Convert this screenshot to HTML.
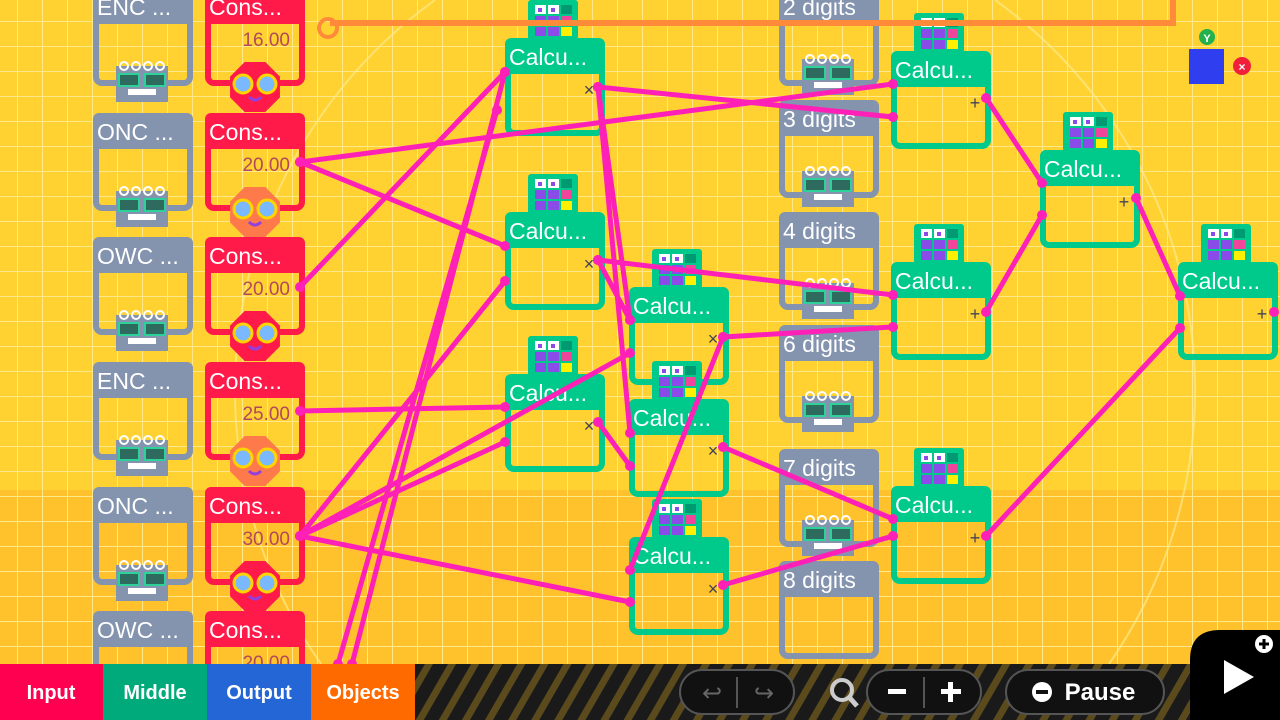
<!DOCTYPE html>
<html><head><meta charset="utf-8"><style>
html,body{margin:0;padding:0;width:1280px;height:720px;overflow:hidden;background:#FFD232}
svg{display:block}
svg text{font-family:"Liberation Sans",sans-serif}
</style></head><body>
<svg id="s" width="1280" height="720" viewBox="0 0 1280 720" xmlns="http://www.w3.org/2000/svg">
<defs>
<pattern id="grid" width="25" height="25" patternUnits="userSpaceOnUse" x="-7" y="-3">
<path d="M25 0V25M0 25H25" stroke="#FFE98A" stroke-width="2" fill="none"/>
</pattern>
<pattern id="stripes" width="20" height="20" patternUnits="userSpaceOnUse" patternTransform="rotate(30)">
<rect width="20" height="20" fill="#1a1a1a"/><rect width="7" height="20" fill="#5a4a1c"/>
</pattern>
</defs>
<rect width="1280" height="490" fill="#FFD232"/>
<rect y="490" width="1280" height="180" fill="#FFC22C"/>
<rect width="1280" height="670" fill="url(#grid)"/>
<path d="M435 0A480 480 0 0 0 321 664M995 0A480 480 0 0 1 1109 664" fill="none" stroke="#FFE98A" stroke-width="2" opacity="0.7"/>
<g id="nodes"></g>
<path d="M330 23H1173V0" stroke="#FF8A3A" stroke-width="6" fill="none"/>
<circle cx="328" cy="28" r="9" fill="none" stroke="#FF8A3A" stroke-width="4"/>
<g id="wires"></g>
<g>
<rect x="1189" y="49" width="35" height="35" fill="#2F3FF0"/>
<circle cx="1207" cy="37" r="8" fill="#22B14C"/><text x="1207" y="42" font-size="11" font-weight="bold" fill="#fff" text-anchor="middle">Y</text>
<circle cx="1242" cy="66" r="9" fill="#F0203A"/><text x="1242" y="71" font-size="12" font-weight="bold" fill="#fff" text-anchor="middle">×</text>
</g>
<g>
<rect y="664" width="1280" height="56" fill="url(#stripes)"/>
<rect x="0" y="664" width="103" height="56" fill="#FF0050"/>
<rect x="103" y="664" width="104" height="56" fill="#00AA7A"/>
<rect x="207" y="664" width="104" height="56" fill="#2566D6"/>
<rect x="311" y="664" width="104" height="56" fill="#FF6A00"/>
<g font-size="20" font-weight="bold" fill="#fff" text-anchor="middle">
<text x="51" y="699">Input</text><text x="155" y="699">Middle</text><text x="259" y="699">Output</text><text x="363" y="699">Objects</text>
</g>
<rect x="680" y="670" width="114" height="44" rx="22" fill="#111" stroke="#555" stroke-width="2"/>
<text x="712" y="701" font-size="24" fill="#666" text-anchor="middle">↩</text><line x1="737" y1="677" x2="737" y2="708" stroke="#555" stroke-width="2"/><text x="764" y="701" font-size="24" fill="#666" text-anchor="middle">↪</text>
<circle cx="842" cy="690" r="10" fill="none" stroke="#ccc" stroke-width="4"/><line x1="849" y1="697" x2="857" y2="706" stroke="#ccc" stroke-width="5"/>
<rect x="867" y="670" width="114" height="44" rx="22" fill="#111" stroke="#555" stroke-width="2"/>
<rect x="888" y="689" width="18" height="5" fill="#fff"/><line x1="924" y1="677" x2="924" y2="708" stroke="#555" stroke-width="2"/><rect x="941" y="689" width="20" height="5" fill="#fff"/><rect x="948" y="682" width="5" height="20" fill="#fff"/>
<rect x="1006" y="670" width="158" height="44" rx="22" fill="#111" stroke="#555" stroke-width="2"/>
<circle cx="1042" cy="692" r="10" fill="#fff"/><rect x="1036" y="690" width="12" height="4" fill="#111"/>
<text x="1100" y="700" font-size="24" font-weight="bold" fill="#fff" text-anchor="middle">Pause</text>
<path d="M1190 720V660Q1190 630 1220 630H1280V720Z" fill="#000"/>
<path d="M1224 660L1254 677L1224 694Z" fill="#fff"/>
<circle cx="1264" cy="644" r="9" fill="#fff"/><path d="M1259 644H1269M1264 639V649" stroke="#000" stroke-width="3"/>
</g>
</svg>
<script>
const NS="http://www.w3.org/2000/svg";
const gN=document.getElementById('nodes'),gW=document.getElementById('wires');
function el(tag,attrs,parent){const e=document.createElementNS(NS,tag);for(const k in attrs)e.setAttribute(k,attrs[k]);parent.appendChild(e);return e;}
const inputLabels=["ENC ...","ONC ...","OWC ...","ENC ...","ONC ...","OWC ..."];
const constValues=["16.00","20.00","20.00","25.00","30.00","20.00"];
const rowTops=[-12,113,237,362,487,611];
const digitLabels=["2 digits","3 digits","4 digits","6 digits","7 digits","8 digits"];
const digitTops=[-12,100,212,325,449,561];
const calcX=[505,505,505,629,629,629,891,891,891,1040,1178];
const calcY=[38,212,374,287,399,537,51,262,486,150,262];
const calcOp=["×","×","×","×","×","×","+","+","+","+","+"];
function box(x,y,color,label,name,fs){
  const g=el('g',{},gN);
  
  
  el('rect',{x:x+3,y:y+3,width:94,height:92,rx:6,fill:'none',stroke:color,'stroke-width':6},g);
  el('rect',{x:x,y:y,width:100,height:36,rx:6,fill:color},g);
  const t=el('text',{x:x+4,y:y+27,'font-size':fs||23,fill:'#fff'},g);t.textContent=label;
  return g;
}
function grayFace(cx,cy){
  const g=el('g',{},gN);
  
  
  el('rect',{x:cx-26,y:cy-14,width:52,height:36,fill:'#8493AE'},g);
  for(let i=0;i<4;i++)el('circle',{cx:cx-18+i*12,cy:cy-14,r:4,fill:'none',stroke:'#fff','stroke-width':2},g);
  el('rect',{x:cx-23,y:cy-6,width:20,height:12,fill:'#2E6B5E',stroke:'#2ED19A','stroke-width':2},g);
  el('rect',{x:cx+3,y:cy-6,width:20,height:12,fill:'#2E6B5E',stroke:'#2ED19A','stroke-width':2},g);
  el('rect',{x:cx-14,y:cy+9,width:28,height:6,fill:'#fff'},g);
}
function redFace(cx,cy,col){
  const g=el('g',{},gN);
  
  
  const r=27,pts=[];for(let i=0;i<8;i++){const a=Math.PI/8+i*Math.PI/4;pts.push((cx+r*Math.cos(a))+','+(cy+r*Math.sin(a)));}
  el('polygon',{points:pts.join(' '),fill:col||'#FF1A4A'},g);
  el('circle',{cx:cx-12,cy:cy-3,r:9,fill:'#7AB8FF',stroke:'#FFD400','stroke-width':3},g);
  el('circle',{cx:cx+12,cy:cy-3,r:9,fill:'#7AB8FF',stroke:'#FFD400','stroke-width':3},g);
  el('path',{d:`M${cx-6} ${cy+10}Q${cx} ${cy+16} ${cx+6} ${cy+10}`,stroke:'#9040E0','stroke-width':3,fill:'none'},g);
}
function calcIcon(cx,y){
  const g=el('g',{},gN);
  
  
  el('rect',{x:cx-25,y:y,width:50,height:40,rx:3,fill:'#00C98C'},g);
  const cols=[['#fff','#fff','#009A72'],['#8A4BE8','#8A4BE8','#F0459A'],['#8A4BE8','#8A4BE8','#FFF000']];
  for(let r=0;r<3;r++)for(let c=0;c<3;c++)el('rect',{x:cx-18+c*13,y:y+5+r*11,width:11,height:9,fill:cols[r][c]},g);
  el('rect',{x:cx-15,y:y+8,width:4,height:4,fill:'#8A4BE8'},g);
  el('rect',{x:cx-2,y:y+8,width:4,height:4,fill:'#8A4BE8'},g);
}
for(let i=0;i<rowTops.length;i++){
  box(93,rowTops[i],'#8493AE',inputLabels[i],'input-node');
  box(205,rowTops[i],'#FF1A4A','Cons...','constant-node');
  const t=el('text',{x:290,y:rowTops[i]+58,'font-size':19,fill:'#B04A5A','text-anchor':'end'},gN);
  
  
  t.textContent=constValues[i];
}
for(let i=0;i<rowTops.length-1;i++){
  grayFace(142,rowTops[i]+92);
  redFace(255,rowTops[i]+99,i%2===1?'#FF7A4A':'#FF1A4A');
}
for(let i=0;i<digitTops.length;i++){
  box(779,digitTops[i],'#8493AE',digitLabels[i],'digit-node');
  if(i<digitTops.length-1)grayFace(828,digitTops[i]+85);
}
for(let i=0;i<calcX.length;i++){
  calcIcon(calcX[i]+48,calcY[i]-38);
  box(calcX[i],calcY[i],'#00C98C','Calcu...','calculator-node');
  const t=el('text',{x:calcX[i]+84,y:calcY[i]+58,'font-size':18,fill:'#445','text-anchor':'middle'},gN);
  
  
  t.textContent=calcOp[i];
}
const wireFrom=[[300,162],[300,162],[300,287],[300,411],[300,536],[300,536],[300,536],[300,536],[338,664],[352,664],[598,87],[598,87],[598,87],[598,260],[598,260],[598,422],[723,337],[723,337],[723,447],[723,585],[986,98],[986,312],[986,536],[1136,198]];
const wireTo=[[893,84],[505,246],[505,72],[505,407],[505,281],[630,353],[630,602],[505,442],[497,110],[505,72],[893,117],[630,320],[630,433],[893,295],[630,320],[630,466],[893,327],[630,570],[893,519],[893,536],[1042,183],[1042,215],[1180,328],[1180,296]];
for(let i=0;i<wireFrom.length;i++){
  const [x1,y1]=wireFrom[i],[x2,y2]=wireTo[i];
  const l=el('line',{x1,y1,x2,y2,stroke:'#FF20B8','stroke-width':5,'stroke-linecap':'round'},gW);
  
  
  el('circle',{cx:x1,cy:y1,r:5,fill:'#FF20B8'},gW);
  el('circle',{cx:x2,cy:y2,r:5,fill:'#FF20B8'},gW);
}
el('circle',{cx:1274,cy:312,r:5,fill:'#FF20B8'},gW);
</script>
</body></html>
